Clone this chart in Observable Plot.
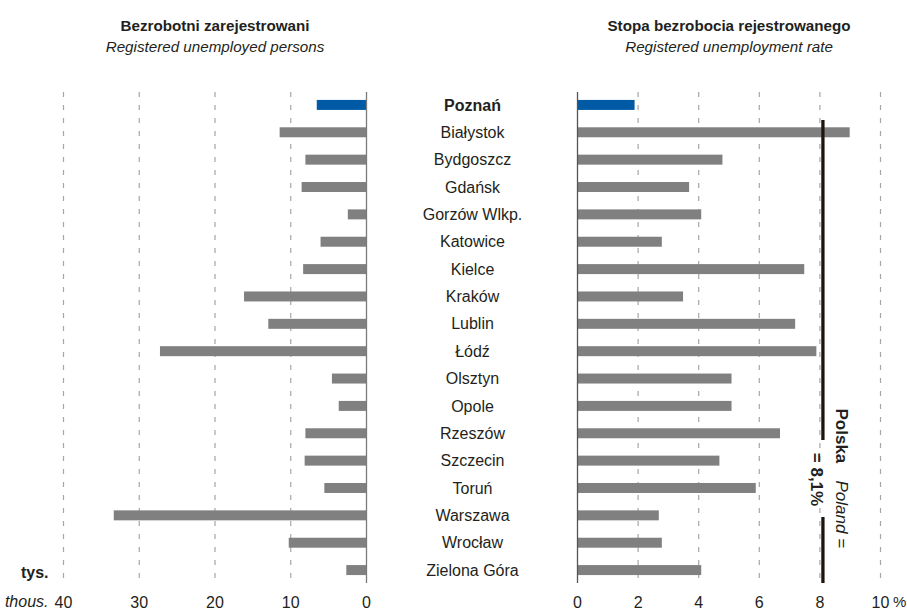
<!DOCTYPE html>
<html>
<head>
<meta charset="utf-8">
<script src="https://cdn.jsdelivr.net/npm/d3@7"></script>
<script src="https://cdn.jsdelivr.net/npm/@observablehq/plot@0.6"></script>
<style>
  body { margin: 0; background: white; }
  #wrap { position: relative; width: 907px; height: 612px; overflow: hidden; }
  #wrap > svg { position: absolute; top: 0; }
</style>
</head>
<body>
<div id="wrap"></div>
<script>
// ---- data ----
const cities = ["Poznań","Białystok","Bydgoszcz","Gdańsk","Gorzów Wlkp.","Katowice","Kielce","Kraków","Lublin","Łódź","Olsztyn","Opole","Rzeszów","Szczecin","Toruń","Warszawa","Wrocław","Zielona Góra"];
const unemployed = [6.5,11.4,8.0,8.5,2.4,6.0,8.3,16.1,12.9,27.2,4.5,3.6,8.0,8.1,5.5,33.3,10.2,2.6];
const rate = [1.9,9.0,4.8,3.7,4.1,2.8,7.5,3.5,7.2,7.9,5.1,5.1,6.7,4.7,5.9,2.7,2.8,4.1];
const leftTicks = [0,10,20,30,40];
const rightTicks = [0,2,4,6,8,10];
const highlight = "Poznań";
const polandRate = 8.1;
const leftTitle = "Bezrobotni zarejestrowani";
const leftSubtitle = "Registered unemployed persons";
const rightTitle = "Stopa bezrobocia rejestrowanego";
const rightSubtitle = "Registered unemployment rate";
const unitPl = "tys.";
const unitEn = "thous.";

// ---- styles ----
const FONT = '"Liberation Sans", Arial, sans-serif';
const BLUE = "#005aa5";
const GRAY = "#808080";
const GRID = "#a6a6a6";
const TEXT = "#231f20";

const rows = cities.map((c, i) => ({city: c, unemployed: unemployed[i], rate: rate[i]}));
const yOpts = {domain: cities, paddingInner: 0.635, paddingOuter: 0.29, round: false, axis: null};
const common = {
  height: 612, marginTop: 92, marginBottom: 29,
  style: {fontFamily: FONT, fontSize: "16px", color: TEXT, background: "transparent", overflow: "visible"}
};

const left = Plot.plot({
  ...common,
  width: 520, marginLeft: 63, marginRight: 154,
  x: {domain: [0, 40], reverse: true, ticks: leftTicks, tickSize: 0, tickPadding: 13, label: null},
  y: yOpts,
  marks: [
    Plot.ruleX(leftTicks.filter(d => d > 0), {stroke: GRID, strokeDasharray: "5,8", strokeWidth: 1.2}),
    Plot.barX(rows, {x: "unemployed", y: "city", fill: d => d.city === highlight ? BLUE : GRAY}),
    Plot.ruleX([0], {stroke: "#7a7a7a", strokeWidth: 1.3}),
    Plot.text(rows.filter(d => d.city !== highlight), {y: "city", text: "city", frameAnchor: "right", dx: 106, textAnchor: "middle", fill: TEXT, fontSize: 16}),
    Plot.text(rows.filter(d => d.city === highlight), {y: "city", text: "city", frameAnchor: "right", dx: 106, textAnchor: "middle", fill: TEXT, fontSize: 16, fontWeight: "bold"}),
    Plot.text([leftTitle], {frameAnchor: "top", dy: -72, fontWeight: "bold", fontSize: 15.2, fill: TEXT}),
    Plot.text([leftSubtitle], {frameAnchor: "top", dy: -51, fontStyle: "italic", fontSize: 15.2, fill: TEXT}),
    Plot.text([unitPl], {frameAnchor: "bottom-left", dx: -15, dy: -6, textAnchor: "end", fontWeight: "bold", fontSize: 16, fill: TEXT}),
    Plot.text([unitEn], {frameAnchor: "bottom-left", dx: -15, dy: 23, textAnchor: "end", fontStyle: "italic", fontSize: 16, fill: TEXT})
  ]
});

const right = Plot.plot({
  ...common,
  width: 387, marginLeft: 57, marginRight: 27,
  x: {domain: [0, 10], ticks: rightTicks, tickSize: 0, tickPadding: 13, label: null},
  y: yOpts,
  marks: [
    Plot.ruleX(rightTicks.filter(d => d > 0), {stroke: GRID, strokeDasharray: "5,8", strokeWidth: 1.2}),
    Plot.barX(rows, {x: "rate", y: "city", fill: d => d.city === highlight ? BLUE : GRAY}),
    Plot.ruleX([0], {stroke: "#555555", strokeWidth: 1.3}),
    Plot.ruleX([polandRate], {stroke: "#1a1511", strokeWidth: 3.3, insetTop: 28, insetBottom: 143}),
    Plot.ruleX([polandRate], {stroke: "#1a1511", strokeWidth: 3.3, insetTop: 425}),
    Plot.text(["= " + String(polandRate).replace(".", ",") + "%"], {x: polandRate, frameAnchor: "top", dy: 387, rotate: 90, textAnchor: "middle", fontWeight: "bold", fontSize: 17, fill: TEXT}),
    Plot.text(["Polska"], {x: polandRate, frameAnchor: "top", dx: 25, dy: 316, rotate: 90, textAnchor: "start", fontWeight: "bold", fontSize: 17, fill: TEXT}),
    Plot.text(["Poland ="], {x: polandRate, frameAnchor: "top", dx: 25, dy: 388, rotate: 90, textAnchor: "start", fontStyle: "italic", fontSize: 17, fill: TEXT}),
    Plot.text(["%"], {x: 10, frameAnchor: "bottom", dx: 12.5, dy: 23, textAnchor: "start", fontSize: 15, fill: TEXT}),
    Plot.text([rightTitle], {frameAnchor: "top", dy: -72, fontWeight: "bold", fontSize: 15.2, fill: TEXT}),
    Plot.text([rightSubtitle], {frameAnchor: "top", dy: -51, fontStyle: "italic", fontSize: 15.2, fill: TEXT})
  ]
});

left.style.left = "0px";
right.style.left = "520px";
document.getElementById("wrap").append(left, right);
</script>
</body>
</html>
